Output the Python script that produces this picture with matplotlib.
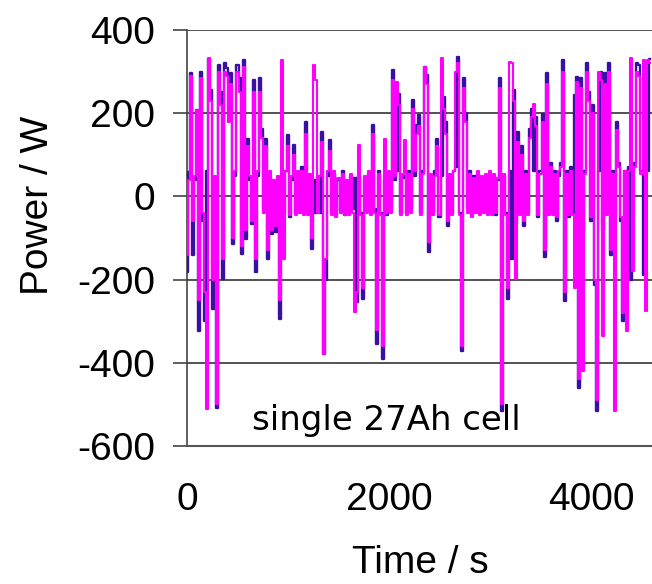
import numpy as np
import matplotlib
matplotlib.use("Agg")
import matplotlib.pyplot as plt

# ---------------- data ----------------
sample_period_s = 20  # one value per 20 s

power_blue = [
    -182, 59, 296, -142, 40, 207, -323, 300, -60, -299,
    60, 330, 255, -271, 40, -508, 316, 251, -198, 320,
    308, 211, 296, -114, 50, 316, 284, -138, 328, -102,
    139, 40, -66, 280, -182, 50, 284, 163, -30, 139,
    -150, 50, -90, 30, -86, 40, -295, 50, -40, 60,
    147, -50, 40, 123, -40, 50, -30, 71, -40, 179,
    -40, 50, -126, 40, -40, 50, -40, 155, -379, -202,
    50, 135, -40, 55, -45, 40, -35, 60, -45, 35,
    -40, 50, -30, 45, -255, 50, -40, -247, 40, -35,
    55, -40, 171, -30, -355, 60, -40, -391, 40, -45,
    55, -35, 304, 40, 60, 247, -40, 50, 45, -40,
    60, -30, 231, 50, 171, 195, -40, 60, 312, 292,
    -134, 50, -40, 60, 139, -50, 50, 240, 179, -70,
    50, -40, 60, 70, 336, -40, -371, 284, 200, -30,
    60, -45, 50, -30, 55, -40, 45, -35, 50, -40,
    55, -40, 50, -45, 40, 284, -516, 50, -40, -247,
    60, -150, 255, -60, 155, -40, 120, -70, 60, -40,
    163, 211, 60, 190, -50, 60, 199, -146, 296, -40,
    80, -40, 60, -60, 50, 80, 328, -251, 60, -50,
    70, -40, 243, 288, -460, 284, -80, 60, 320, 250,
    -60, 219, -214, -516, 60, 300, -80, 296, -40, 320,
    -140, 60, -50, 179, 80, -60, -299, 60, -40, 70,
    -202, 60, 80, 320, 316, 60, -190, 80, 60, 330,
]

power_magenta = [
    -142, 40, 290, -60, 50, 207, -250, 285, -40, -230,
    -512, 332, 230, -200, 50, -500, 300, 220, -150, 300,
    290, 180, 270, -100, 60, 300, 250, -120, 310, -80,
    120, 50, -60, 250, -150, 60, 250, 140, -40, 120,
    -130, 60, -80, 40, -70, 50, -250, 328, -150, 60,
    120, -45, 50, 100, -45, 60, -40, 60, -45, 150,
    -45, 55, -100, 316, 280, -40, 50, 130, -379, -150,
    60, 110, -45, 60, -50, 45, -40, 55, -45, 40,
    -45, 55, -40, -279, -230, 123, -45, -220, 50, -40,
    60, -45, 150, -40, -320, 55, -45, -360, 139, -40,
    60, -40, 280, 50, 276, 220, -45, 55, 135, -45,
    55, -40, 210, 60, 150, 170, -45, 55, 312, 270,
    -110, 55, -45, 50, 120, -45, 332, 210, 150, -60,
    55, -45, 60, 300, 320, -45, -360, 260, 180, -40,
    55, -50, 45, -40, 60, -45, 50, -40, 55, -45,
    60, -45, 55, -40, 45, 260, -500, 55, -45, -220,
    324, 320, 230, -198, 130, -45, 100, -60, 55, -45,
    140, 190, 223, 170, -45, 55, 180, -130, 270, -45,
    70, -45, 55, -50, 60, 70, 300, -230, 55, -45,
    60, -45, -220, 276, -440, 260, -419, 55, 300, 230,
    -50, 200, -200, -490, 300, 280, -335, 270, -45, 300,
    -130, 55, -516, 160, 70, -50, -280, 60, -323, 60,
    332, -180, 70, 300, 290, 55, 328, -275, 328, 320,
]

y_ticks = [400, 200, 0, -200, -400, -600]
x_ticks = [0, 2000, 4000]
x_label = "Time / s"
y_label = "Power / W"
annotation = "single 27Ah cell"

# ---------------- figure ----------------
W, H = 652, 584
fig = plt.figure(figsize=(W / 100, H / 100), dpi=100)
ax = fig.add_axes([187 / W, 1 - 446 / H, (W - 187) / W, (446 - 30) / H])

time_s = np.arange(len(power_blue)) * sample_period_s

ax.plot(time_s, power_blue, drawstyle="steps-mid", color="#3A0FA5", lw=1.7, zorder=3)
ax.plot(time_s, power_magenta, drawstyle="steps-mid", color="#FF00FF", lw=1.5, zorder=4)

ax.set_xlim(0, 4604)
ax.set_ylim(-600, 400)

ax.set_yticks(y_ticks)
ax.set_xticks(x_ticks)
ax.set_yticklabels([str(v) for v in y_ticks])
ax.set_xticklabels([str(v) for v in x_ticks])

for lab in ax.get_yticklabels() + ax.get_xticklabels():
    lab.set_fontfamily(["Liberation Sans", "DejaVu Sans"])
    lab.set_fontsize(28)

ax.tick_params(axis="y", direction="out", length=10, width=1.2, color="#444444", pad=13)
ax.tick_params(axis="x", length=0, pad=26)

ax.yaxis.grid(True, color="#444444", lw=1.3)
ax.xaxis.grid(False)
ax.set_axisbelow(True)

ax.spines["right"].set_visible(False)
ax.spines["top"].set_visible(False)
ax.spines["left"].set_color("#444444")
ax.spines["left"].set_linewidth(1.2)
ax.spines["bottom"].set_color("#555555")
ax.spines["bottom"].set_linewidth(1.5)

fig.text(38 / W, 1 - 205 / H, y_label, rotation=90, ha="center", va="center",
         family=["Liberation Sans", "DejaVu Sans"], fontsize=28)
fig.text(420 / W, 1 - 563 / H, x_label, ha="center", va="center",
         family=["Liberation Sans", "DejaVu Sans"], fontsize=28)

ax.text(643, -561, annotation, ha="left", va="baseline",
        family=["DejaVu Sans"], fontsize=24.5, zorder=6)

fig.savefig("out.png", dpi=100)
